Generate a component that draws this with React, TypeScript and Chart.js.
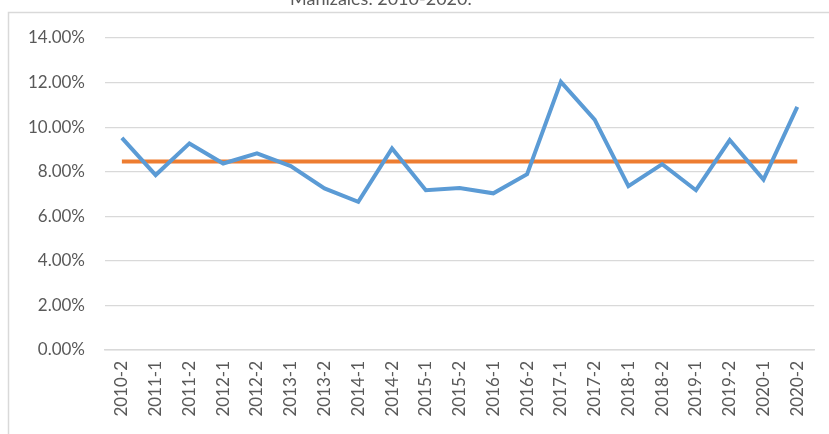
import React, { useEffect, useRef } from "react";
import { Chart, registerables } from "chart.js";

Chart.register(...registerables);

const categories = [
  "2010-2", "2011-1", "2011-2", "2012-1", "2012-2", "2013-1", "2013-2",
  "2014-1", "2014-2", "2015-1", "2015-2", "2016-1", "2016-2", "2017-1",
  "2017-2", "2018-1", "2018-2", "2019-1", "2019-2", "2020-1", "2020-2",
];

const tasaValues = [
  9.52, 7.85, 9.27, 8.37, 8.82, 8.25, 7.25, 6.65, 9.04, 7.17, 7.27,
  7.03, 7.89, 12.03, 10.34, 7.35, 8.34, 7.17, 9.42, 7.65, 10.91,
];

const mediaValues = [
  8.46, 8.46, 8.46, 8.46, 8.46, 8.46, 8.46, 8.46, 8.46, 8.46, 8.46,
  8.46, 8.46, 8.46, 8.46, 8.46, 8.46, 8.46, 8.46, 8.46, 8.46,
];

const titleText = "Manizales. 2010-2020.";

const FONT = "Lato, 'Open Sans', sans-serif";
const TEXT = "#595959";

const framePlugin = {
  id: "frame",
  beforeDraw(chart: any) {
    const ctx = chart.ctx;
    ctx.save();
    ctx.fillStyle = "#ffffff";
    ctx.fillRect(0, 0, chart.width, chart.height);
    ctx.strokeStyle = "#d9d9d9";
    ctx.lineWidth = 1.5;
    ctx.beginPath();
    ctx.moveTo(8.5, chart.height);
    ctx.lineTo(8.5, 12.5);
    ctx.lineTo(chart.width, 12.5);
    ctx.stroke();
    ctx.fillStyle = TEXT;
    ctx.font = "18px " + FONT;
    ctx.textBaseline = "alphabetic";
    ctx.textAlign = "left";
    ctx.fillText(titleText, 290, 5);
    ctx.restore();
  },
};

export default function App() {
  const ref = useRef<HTMLCanvasElement | null>(null);
  useEffect(() => {
    if (!ref.current) return;
    const chart = new Chart(ref.current, {
      type: "line",
      data: {
        labels: categories,
        datasets: [
          {
            label: "Tasa",
            data: tasaValues,
            borderColor: "#5b9bd5",
            borderWidth: 4,
            pointRadius: 0,
            tension: 0,
            fill: false,
          },
          {
            label: "Media",
            data: mediaValues,
            borderColor: "#ed7d31",
            borderWidth: 4,
            pointRadius: 0,
            tension: 0,
            fill: false,
          },
        ],
      },
      options: {
        animation: false,
        responsive: true,
        maintainAspectRatio: false,
        layout: { padding: { top: 38, right: 14, left: 0, bottom: 0 } },
        plugins: {
          legend: { display: false },
          title: { display: false },
          tooltip: { enabled: false },
        },
        scales: {
          x: {
            offset: true,
            grid: { display: false, drawTicks: false },
            border: { display: true, color: "#d9d9d9", width: 1.5 },
            ticks: {
              minRotation: 90,
              maxRotation: 90,
              autoSkip: false,
              padding: 11,
              color: TEXT,
              font: { family: FONT, size: 17 },
            },
            afterFit: (s: any) => {
              s.height = 84;
            },
          },
          y: {
            min: 0,
            max: 14,
            grid: { color: "#d9d9d9", lineWidth: 1.2, drawTicks: false },
            border: { display: false },
            ticks: {
              stepSize: 2,
              padding: 20,
              color: TEXT,
              font: { family: FONT, size: 17 },
              callback: (v: any) => Number(v).toFixed(2) + "%",
            },
            afterFit: (s: any) => {
              s.width = 105;
            },
          },
        },
      },
      plugins: [framePlugin],
    });
    return () => chart.destroy();
  }, []);
  return (
    <div style={{ position: "fixed", left: 0, top: 0, width: 829, height: 434 }}>
      <canvas ref={ref} />
    </div>
  );
}
